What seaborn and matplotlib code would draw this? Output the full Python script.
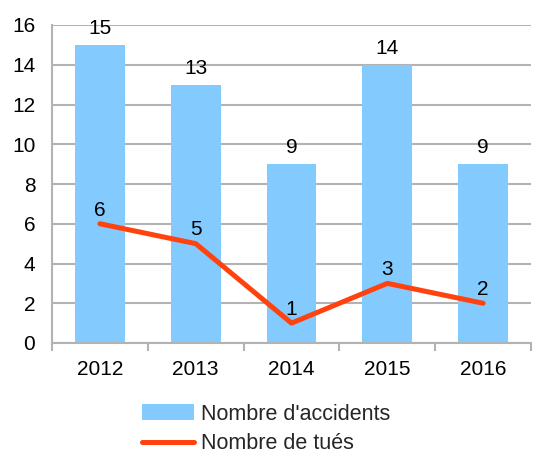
import numpy as np
import pandas as pd
import matplotlib
matplotlib.use("Agg")
import matplotlib.pyplot as plt
import seaborn as sns

# ======================================================
# Data
# ======================================================
years = ["2012", "2013", "2014", "2015", "2016"]
accidents = [15, 13, 9, 14, 9]
tues = [6, 5, 1, 3, 2]

BAR_COLOR = "#83CAFF"
LINE_COLOR = "#FF420E"
GRID_COLOR = "#b3b3b3"

sns.set_theme(style="white")
plt.rcParams["font.family"] = ["Liberation Sans", "DejaVu Sans"]
plt.rcParams["font.size"] = 15

df = pd.DataFrame({"year": years, "accidents": accidents, "tues": tues})
df["pos"] = np.arange(len(df))

fig = plt.figure(figsize=(5.33, 4.57), dpi=100)
ax = fig.add_axes([52 / 533, 1 - 343 / 457, 479 / 533, 318 / 457])

sns.barplot(data=df, x="year", y="accidents", color=BAR_COLOR, width=0.52,
            saturation=1, linewidth=0, ax=ax, label="Nombre d'accidents", zorder=2)
sns.lineplot(data=df, x="pos", y="tues", color=LINE_COLOR, linewidth=3.6,
             ax=ax, label="Nombre de tués", zorder=3)

# value labels
for i, v in enumerate(accidents):
    ax.annotate(str(v), (i, v), xytext=(0, 5), textcoords="offset points",
                ha="center", va="bottom", fontsize=15, color="black")
for i, v in enumerate(tues):
    ax.annotate(str(v), (i, v), xytext=(0, 3), textcoords="offset points",
                ha="center", va="bottom", fontsize=15, color="black", zorder=4)

# axes
ax.set_xlim(-0.5, 4.5)
ax.set_ylim(0, 16)
ax.set_yticks(range(0, 17, 2))
ax.set_xticks(range(len(years)))
ax.set_xticklabels(years)
ax.set_xticks(np.arange(-0.5, 5, 1), minor=True)
ax.set_xlabel("")
ax.set_ylabel("")
ax.yaxis.grid(True, color=GRID_COLOR, linewidth=1.5, zorder=0)
ax.set_axisbelow(True)
for s in ["top", "right"]:
    ax.spines[s].set_visible(False)
for s in ["left", "bottom"]:
    ax.spines[s].set_color(GRID_COLOR)
    ax.spines[s].set_linewidth(1.5)
ax.tick_params(axis="x", which="major", length=0, pad=12, labelsize=15, colors="black")
ax.tick_params(axis="x", which="minor", length=6, width=1.5, color=GRID_COLOR,
               direction="out", bottom=True)
ax.tick_params(axis="y", which="major", length=6, width=1.5, color=GRID_COLOR,
               direction="out", pad=6, labelsize=15, labelcolor="black")

# legend below, bars first
if ax.legend_:
    ax.legend_.remove()
handles, labels = ax.get_legend_handles_labels()
order = [labels.index("Nombre d'accidents"), labels.index("Nombre de tués")]
fig.legend([handles[i] for i in order], [labels[i] for i in order],
           loc="upper center", bbox_to_anchor=(0.5, 1 - 393 / 457),
           frameon=False, fontsize=15.5, handlelength=2.4, handleheight=0.75,
           handletextpad=0.35, labelspacing=0.4, borderpad=0)

fig.savefig("out.png", dpi=100)
